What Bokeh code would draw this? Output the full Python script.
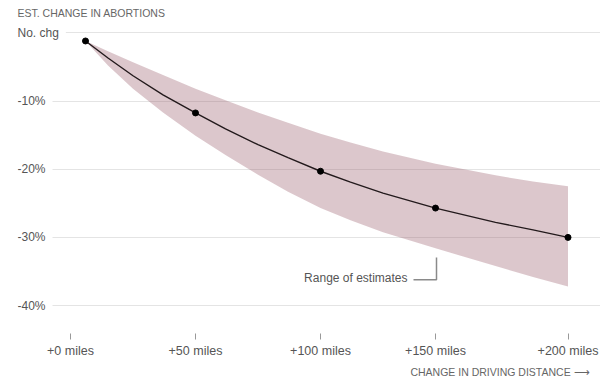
from bokeh.plotting import figure
from bokeh.models import Range1d, FixedTicker, Title
from bokeh.core.properties import value
from bokeh.embed import file_html
from bokeh.resources import INLINE

# ---- data ----
distance = [6, 50, 100, 146, 199]            # added driving distance, miles
change = [-1.2, -11.75, -20.3, -25.7, -30.0]  # est. change in abortions, %

curve_distance = [6, 15, 25, 37, 50, 62, 75, 87, 100, 112, 125, 146, 170, 185, 199]
curve_change = [-1.2, -3.7, -6.3, -9.1, -11.75, -14.1, -16.4, -18.3, -20.3,
                -21.9, -23.5, -25.7, -27.8, -28.9, -30.0]
band_upper = [-1.2, -2.7, -4.3, -6.2, -8.2, -9.9, -11.7, -13.2, -14.8,
              -16.1, -17.4, -19.2, -20.9, -21.8, -22.5]
band_lower = [-1.2, -4.8, -8.2, -11.7, -15.1, -17.9, -20.8, -23.3, -25.7,
              -27.5, -29.25, -31.6, -34.2, -35.8, -37.2]

x_tick_values = [0, 50, 100, 146, 199]
x_tick_labels = ["+0 miles", "+50 miles", "+100 miles", "+150 miles", "+200 miles"]
y_tick_values = [0, -10, -20, -30, -40]
y_tick_labels = ["No. chg", "-10%", "-20%", "-30%", "-40%"]

annot_text = ["Range of estimates"]
annot_x = [134.8]
annot_y = [-36.0]
leader_x = [137.2, 146.4, 146.4]
leader_y = [-36.2, -36.2, -32.95]

X_START, X_END = -21.2, 212.0
Y_START, Y_END = -44.09, 1.51

FONT = "Liberation Sans"
GREY = "#666666"

p = figure(width=600, height=390,
           x_range=Range1d(X_START, X_END), y_range=Range1d(Y_START, Y_END),
           output_backend="svg", toolbar_location=None,
           min_border_left=17, min_border_right=0,
           min_border_top=22, min_border_bottom=57)
p.outline_line_color = None
p.background_fill_color = "white"

# title above
p.add_layout(Title(text="EST. CHANGE IN ABORTIONS", align="left",
                   text_font=FONT, text_font_size="10.5px", text_font_style="normal",
                   text_color=GREY, standoff=8, offset=0), "above")
# axis caption below
p.add_layout(Title(text="CHANGE IN DRIVING DISTANCE  \u27f6", align="right",
                   text_font=FONT, text_font_size="10.5px", text_font_style="normal",
                   text_color=GREY, standoff=7, offset=8), "below")

# x axis
xa = p.xaxis[0]
xa.ticker = FixedTicker(ticks=x_tick_values)
xa.major_label_overrides = {v: l for v, l in zip(x_tick_values, x_tick_labels)}
xa.axis_line_color = None
xa.major_tick_in = 0
xa.major_tick_out = 6
xa.major_tick_line_color = "#999999"
xa.minor_tick_line_color = None
xa.major_label_text_font = FONT
xa.major_label_text_font_size = "12.5px"
xa.major_label_text_color = "#555555"
xa.major_label_standoff = 4

# y axis hidden; grid kept
p.yaxis.visible = False
p.xgrid.visible = False
p.ygrid.ticker = FixedTicker(ticks=y_tick_values)
p.ygrid.grid_line_color = "#e4e4e4"
p.ygrid.grid_line_width = 1

# band, line, dots
p.varea(x=curve_distance, y1=band_lower, y2=band_upper,
        fill_color="#9a5e6e", fill_alpha=0.35)
p.line(curve_distance, curve_change, line_color="#231a1c", line_width=1.4)
p.scatter(distance, change, size=6, fill_color="black", line_color="black")

# y tick labels left-aligned, white box hides grid start
p.text(x=[X_START] * len(y_tick_values), y=y_tick_values, text=y_tick_labels,
       text_align="left", text_baseline="middle",
       text_font=value(FONT), text_font_size="12px", text_color="#555555",
       background_fill_color="white",
       padding=dict(left=0, right=7, top=1, bottom=1))

# annotation
p.line(leader_x, leader_y, line_color="#8a8a8a", line_width=1.5)
p.text(x=annot_x, y=annot_y, text=annot_text, text_align="right",
       text_baseline="middle", text_font=value(FONT), text_font_size="12px",
       text_color="#555555")

open("out.html", "w").write(file_html(p, INLINE))
